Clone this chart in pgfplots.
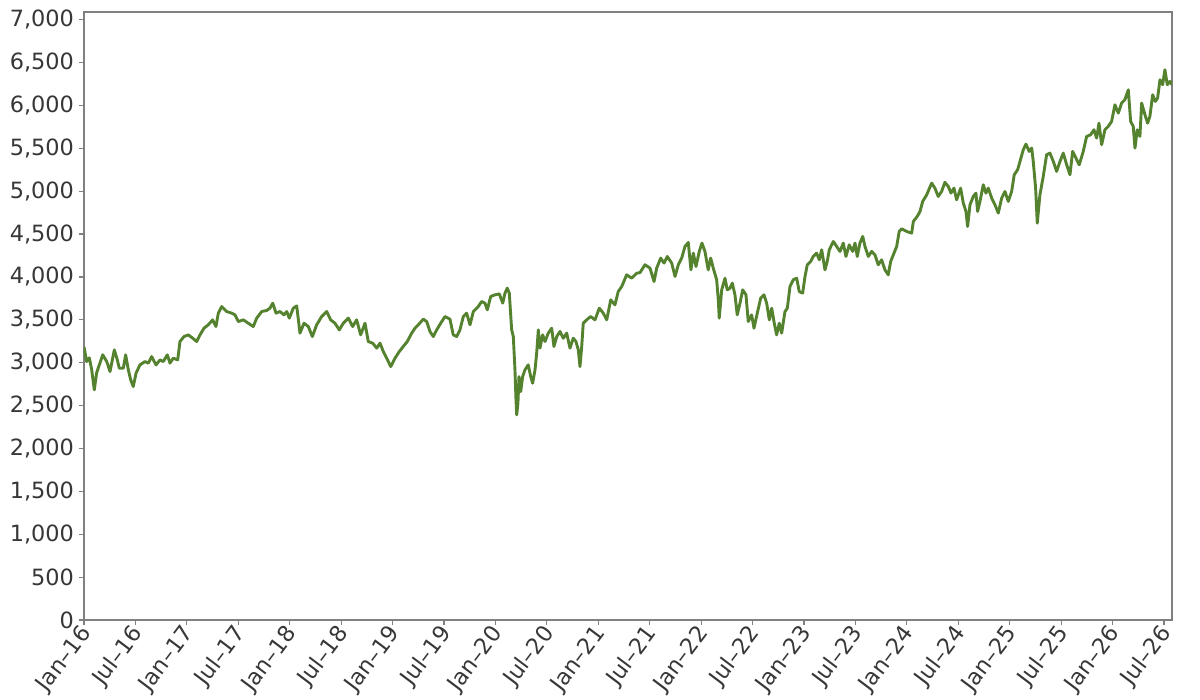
\documentclass[border=0pt]{standalone}
\usepackage{fontspec}
\setmainfont{DejaVu Sans}
\usepackage{pgfplots}
\usepackage{pgfplotstable}
\pgfplotsset{compat=1.18}
\definecolor{linegreen}{RGB}{84,130,46}
\definecolor{labgray}{RGB}{55,55,55}
\definecolor{framegray}{RGB}{128,128,128}
\pgfplotstableread{
x y
2016.000 3185
2016.026 3014
2016.052 3057
2016.075 2917
2016.100 2683
2016.123 2882
2016.149 2975
2016.182 3092
2016.221 3014
2016.253 2897
2016.295 3150
2016.324 3033
2016.343 2936
2016.382 2936
2016.405 3092
2016.431 2917
2016.454 2800
2016.479 2722
2016.506 2878
2016.544 2975
2016.593 3014
2016.625 2995
2016.658 3072
2016.700 2975
2016.739 3033
2016.771 3014
2016.810 3092
2016.836 2995
2016.868 3053
2016.911 3033
2016.933 3247
2016.972 3305
2017.014 3325
2017.057 3286
2017.096 3247
2017.128 3325
2017.167 3403
2017.208 3442
2017.251 3500
2017.283 3422
2017.306 3578
2017.339 3655
2017.387 3597
2017.436 3578
2017.468 3558
2017.500 3480
2017.549 3500
2017.597 3461
2017.646 3422
2017.679 3520
2017.728 3597
2017.776 3609
2017.808 3636
2017.835 3695
2017.867 3578
2017.906 3597
2017.944 3558
2017.971 3597
2017.996 3520
2018.035 3636
2018.068 3663
2018.100 3345
2018.139 3461
2018.181 3422
2018.220 3305
2018.262 3442
2018.311 3539
2018.360 3597
2018.398 3500
2018.440 3461
2018.482 3383
2018.521 3461
2018.570 3520
2018.612 3422
2018.651 3500
2018.690 3325
2018.732 3461
2018.764 3247
2018.807 3228
2018.846 3170
2018.878 3228
2018.910 3130
2018.943 3053
2018.982 2955
2019.024 3053
2019.065 3130
2019.104 3189
2019.143 3247
2019.186 3345
2019.218 3403
2019.250 3442
2019.299 3508
2019.332 3480
2019.364 3364
2019.396 3305
2019.429 3383
2019.468 3461
2019.510 3539
2019.558 3508
2019.590 3325
2019.623 3305
2019.655 3383
2019.688 3539
2019.720 3578
2019.753 3442
2019.785 3597
2019.833 3655
2019.866 3714
2019.898 3695
2019.921 3617
2019.954 3772
2019.996 3792
2020.038 3803
2020.071 3695
2020.093 3811
2020.115 3870
2020.135 3811
2020.158 3383
2020.174 3305
2020.190 2917
2020.200 2567
2020.207 2392
2020.219 2528
2020.229 2839
2020.246 2664
2020.265 2839
2020.287 2917
2020.319 2975
2020.343 2839
2020.362 2761
2020.385 2917
2020.401 3111
2020.417 3383
2020.433 3170
2020.459 3325
2020.482 3247
2020.514 3345
2020.547 3403
2020.569 3189
2020.596 3305
2020.628 3364
2020.660 3286
2020.693 3345
2020.725 3170
2020.757 3286
2020.783 3247
2020.806 3150
2020.822 2955
2020.839 3189
2020.854 3461
2020.887 3500
2020.926 3539
2020.968 3500
2021.010 3636
2021.049 3578
2021.082 3500
2021.121 3733
2021.162 3675
2021.194 3830
2021.228 3889
2021.276 4025
2021.325 3986
2021.373 4044
2021.405 4050
2021.454 4142
2021.503 4103
2021.542 3947
2021.568 4103
2021.607 4220
2021.639 4162
2021.671 4239
2021.714 4162
2021.746 4006
2021.778 4142
2021.811 4220
2021.843 4356
2021.875 4402
2021.901 4083
2021.924 4278
2021.950 4122
2021.982 4298
2022.008 4395
2022.037 4298
2022.069 4083
2022.093 4220
2022.118 4103
2022.151 3967
2022.167 3733
2022.176 3520
2022.200 3850
2022.232 3986
2022.254 3850
2022.280 3869
2022.303 3928
2022.329 3792
2022.351 3558
2022.378 3695
2022.404 3850
2022.436 3792
2022.458 3480
2022.491 3558
2022.514 3403
2022.546 3578
2022.579 3753
2022.611 3792
2022.637 3695
2022.663 3500
2022.686 3636
2022.711 3461
2022.734 3325
2022.760 3461
2022.783 3345
2022.815 3597
2022.838 3636
2022.864 3889
2022.896 3967
2022.929 3986
2022.954 3830
2022.987 3811
2023.010 4006
2023.032 4142
2023.065 4181
2023.090 4239
2023.123 4278
2023.149 4200
2023.172 4317
2023.204 4083
2023.226 4181
2023.246 4317
2023.285 4414
2023.318 4356
2023.350 4298
2023.382 4395
2023.408 4239
2023.440 4375
2023.473 4298
2023.496 4395
2023.518 4239
2023.544 4395
2023.571 4473
2023.593 4356
2023.625 4239
2023.658 4298
2023.690 4258
2023.722 4142
2023.755 4200
2023.787 4083
2023.819 4025
2023.843 4181
2023.875 4278
2023.901 4356
2023.926 4531
2023.950 4562
2023.998 4531
2024.047 4511
2024.063 4647
2024.101 4706
2024.128 4764
2024.154 4881
2024.193 4958
2024.241 5094
2024.273 5036
2024.305 4939
2024.338 4997
2024.370 5104
2024.403 5055
2024.429 4978
2024.458 5036
2024.484 4900
2024.523 5036
2024.549 4861
2024.575 4764
2024.591 4589
2024.614 4842
2024.646 4939
2024.672 4978
2024.688 4764
2024.711 4881
2024.743 5075
2024.769 4978
2024.792 5036
2024.825 4919
2024.857 4842
2024.889 4745
2024.922 4919
2024.954 4997
2024.986 4881
2025.019 4997
2025.044 5192
2025.077 5250
2025.100 5347
2025.132 5483
2025.158 5549
2025.190 5464
2025.214 5503
2025.229 5347
2025.252 5036
2025.268 4628
2025.294 4958
2025.326 5172
2025.359 5425
2025.391 5445
2025.424 5347
2025.456 5231
2025.489 5347
2025.521 5445
2025.554 5308
2025.586 5192
2025.612 5464
2025.644 5386
2025.676 5308
2025.715 5464
2025.748 5639
2025.787 5658
2025.819 5717
2025.845 5620
2025.868 5794
2025.894 5542
2025.926 5717
2025.958 5756
2025.991 5814
2026.023 6008
2026.056 5911
2026.088 6028
2026.120 6067
2026.153 6183
2026.176 5814
2026.201 5756
2026.218 5503
2026.240 5717
2026.266 5639
2026.283 6028
2026.315 5892
2026.341 5794
2026.363 5872
2026.390 6125
2026.415 6047
2026.438 6086
2026.461 6300
2026.487 6242
2026.509 6417
2026.532 6242
2026.558 6281
2026.578 6242
}\seriesdata
\begin{document}
\begin{tikzpicture}
\begin{axis}[
  scale only axis,
  width=544pt, height=304pt,
  xmin=2016, xmax=2026.578,
  ymin=0, ymax=7090,
  axis line style={draw=framegray, line width=0.6pt},
  tick style={draw=framegray, line width=0.6pt},
  tick align=outside,
  major tick length=2.5pt,
  tick pos=left,
  ytick={0,500,...,7000},
  scaled y ticks=false,
  /pgf/number format/1000 sep={,},
  /pgf/number format/assume math mode=true,
  yticklabel style={font=\fontsize{11.2}{13}\selectfont, text=labgray, xshift=1pt},
  xtick={2016,2016.5,2017,2017.5,2018,2018.5,2019,2019.5,2020,2020.5,2021,2021.5,2022,2022.5,2023,2023.5,2024,2024.5,2025,2025.5,2026,2026.5},
  xticklabels={Jan–16,Jul–16,Jan–17,Jul–17,Jan–18,Jul–18,Jan–19,Jul–19,Jan–20,Jul–20,Jan–21,Jul–21,Jan–22,Jul–22,Jan–23,Jul–23,Jan–24,Jul–24,Jan–25,Jul–25,Jan–26,Jul–26},
  xticklabel style={font=\fontsize{11.2}{13}\selectfont, text=labgray, rotate=53, anchor=east, xshift=2.5pt, yshift=-2.5pt},
]
\addplot[color=linegreen, line width=1.45pt, line join=round] table[x=x, y=y] {\seriesdata};
\end{axis}
\pgfresetboundingbox
\useasboundingbox ([xshift=-42pt,yshift=-40pt]current axis.south west) rectangle ([xshift=14pt,yshift=6pt]current axis.north east);
\end{tikzpicture}
\end{document}
